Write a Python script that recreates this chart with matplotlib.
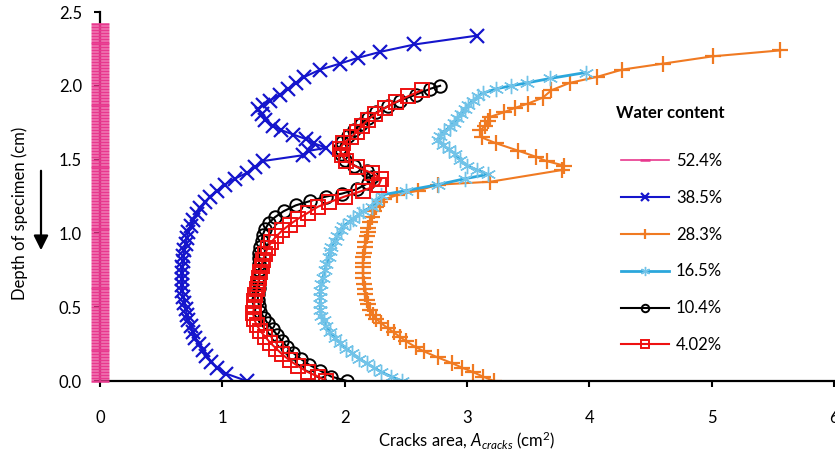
import numpy as np
import matplotlib
matplotlib.use('Agg')
import matplotlib.pyplot as plt
from matplotlib.ticker import FormatStrFormatter

plt.rcParams['font.family'] = ['Lato', 'DejaVu Sans']
plt.rcParams['mathtext.fontset'] = 'custom'
plt.rcParams['mathtext.rm'] = 'Lato'
plt.rcParams['mathtext.it'] = 'Lato:italic'

# water content labels
labels = ['52.4%', '38.5%', '28.3%', '16.5%', '10.4%', '4.02%']

# 52.4% - no cracks over the whole depth
pink_depth = [0.00, 0.02, 0.04, 0.06, 0.08, 0.10, 0.12, 0.14, 0.16, 0.18,
              0.20, 0.22, 0.24, 0.26, 0.28, 0.30, 0.32, 0.34, 0.36, 0.38,
              0.40, 0.42, 0.44, 0.46, 0.48, 0.50, 0.52, 0.54, 0.56, 0.58,
              0.60, 0.62, 0.64, 0.66, 0.68, 0.70, 0.72, 0.74, 0.76, 0.78,
              0.80, 0.82, 0.84, 0.86, 0.88, 0.90, 0.92, 0.94, 0.96, 0.98,
              1.00, 1.02, 1.04, 1.06, 1.08, 1.10, 1.12, 1.14, 1.16, 1.18,
              1.20, 1.22, 1.24, 1.26, 1.28, 1.30, 1.32, 1.34, 1.36, 1.38,
              1.40, 1.42, 1.44, 1.46, 1.48, 1.50, 1.52, 1.54, 1.56, 1.58,
              1.60, 1.62, 1.64, 1.66, 1.68, 1.70, 1.72, 1.74, 1.76, 1.78,
              1.80, 1.82, 1.84, 1.86, 1.88, 1.90, 1.92, 1.94, 1.96, 1.98,
              2.00, 2.02, 2.04, 2.06, 2.08, 2.10, 2.12, 2.14, 2.16, 2.18,
              2.20, 2.22, 2.24, 2.26, 2.28, 2.30, 2.32, 2.34, 2.36, 2.38,
              2.40, 2.42]
pink_area = [0.0] * len(pink_depth)

# 38.5%
blue_depth = [0.00, 0.05, 0.09, 0.13, 0.17, 0.21, 0.25, 0.29, 0.33, 0.37,
              0.41, 0.45, 0.49, 0.53, 0.57, 0.61, 0.65, 0.69, 0.73, 0.77,
              0.81, 0.85, 0.89, 0.93, 0.97, 1.01, 1.05, 1.09, 1.13, 1.17,
              1.21, 1.25, 1.29, 1.33, 1.37, 1.41, 1.45, 1.49, 1.53, 1.56,
              1.58, 1.61, 1.64, 1.67, 1.70, 1.73, 1.77, 1.81, 1.84, 1.87,
              1.90, 1.94, 1.98, 2.02, 2.06, 2.11, 2.15, 2.19, 2.23, 2.28, 2.34]
blue_area = [1.20, 1.03, 0.96, 0.91, 0.87, 0.84, 0.81, 0.78, 0.76, 0.74,
             0.72, 0.71, 0.70, 0.69, 0.68, 0.67, 0.67, 0.67, 0.67, 0.67,
             0.68, 0.68, 0.69, 0.70, 0.71, 0.72, 0.74, 0.76, 0.79, 0.82,
             0.86, 0.90, 0.96, 1.02, 1.10, 1.20, 1.27, 1.33, 1.66, 1.71,
             1.85, 1.75, 1.68, 1.58, 1.48, 1.41, 1.35, 1.32, 1.29, 1.33,
             1.39, 1.47, 1.54, 1.60, 1.67, 1.80, 1.96, 2.11, 2.29, 2.57, 3.08]

# 28.3%
orange_depth = [0.00, 0.03, 0.06, 0.09, 0.12, 0.16, 0.20, 0.23, 0.27, 0.30,
                0.33, 0.36, 0.39, 0.42, 0.45, 0.48, 0.52, 0.55, 0.59, 0.62,
                0.66, 0.70, 0.73, 0.77, 0.80, 0.84, 0.87, 0.91, 0.94, 0.98,
                1.01, 1.04, 1.08, 1.11, 1.15, 1.18, 1.21, 1.23, 1.26, 1.29,
                1.33, 1.35, 1.43, 1.46, 1.49, 1.52, 1.56, 1.61, 1.65, 1.70,
                1.73, 1.76, 1.79, 1.82, 1.85, 1.88, 1.92, 1.97, 2.02, 2.06,
                2.11, 2.15, 2.20, 2.24]
orange_area = [3.22, 3.13, 3.05, 2.96, 2.88, 2.76, 2.65, 2.58, 2.50, 2.45,
               2.40, 2.35, 2.30, 2.26, 2.23, 2.21, 2.19, 2.18, 2.17, 2.17,
               2.16, 2.15, 2.15, 2.15, 2.15, 2.15, 2.16, 2.17, 2.17, 2.18,
               2.19, 2.19, 2.21, 2.22, 2.24, 2.26, 2.29, 2.32, 2.43, 2.60,
               2.76, 3.19, 3.78, 3.79, 3.65, 3.56, 3.42, 3.24, 3.12, 3.11,
               3.15, 3.17, 3.19, 3.30, 3.39, 3.50, 3.62, 3.69, 3.84, 4.06,
               4.27, 4.60, 5.01, 5.56]

# 16.5%
cyan_depth = [0.00, 0.03, 0.06, 0.09, 0.12, 0.15, 0.19, 0.22, 0.26, 0.29,
              0.33, 0.37, 0.41, 0.44, 0.48, 0.52, 0.57, 0.61, 0.66, 0.70,
              0.75, 0.79, 0.84, 0.88, 0.91, 0.95, 0.98, 1.02, 1.05, 1.08,
              1.10, 1.13, 1.15, 1.18, 1.22, 1.26, 1.29, 1.33, 1.37, 1.40,
              1.43, 1.46, 1.50, 1.54, 1.57, 1.60, 1.63, 1.66, 1.69, 1.72,
              1.75, 1.78, 1.81, 1.84, 1.87, 1.90, 1.93, 1.95, 1.98, 2.00,
              2.02, 2.05, 2.09]
cyan_area = [2.47, 2.38, 2.30, 2.24, 2.18, 2.12, 2.06, 2.01, 1.96, 1.92,
             1.88, 1.85, 1.83, 1.81, 1.80, 1.80, 1.80, 1.80, 1.81, 1.82,
             1.84, 1.85, 1.87, 1.88, 1.89, 1.92, 1.94, 1.97, 1.99, 2.04,
             2.07, 2.12, 2.15, 2.22, 2.26, 2.30, 2.50, 2.76, 2.98, 3.17,
             3.08, 3.00, 2.94, 2.90, 2.85, 2.80, 2.76, 2.78, 2.81, 2.86,
             2.89, 2.92, 2.95, 2.98, 3.01, 3.05, 3.09, 3.13, 3.24, 3.36,
             3.49, 3.68, 3.97]

# 10.4%
black_depth = [0.00, 0.03, 0.07, 0.11, 0.15, 0.19, 0.23, 0.27, 0.31, 0.35,
               0.39, 0.43, 0.47, 0.51, 0.55, 0.59, 0.63, 0.67, 0.71, 0.75,
               0.79, 0.83, 0.87, 0.91, 0.95, 0.99, 1.03, 1.07, 1.11, 1.15,
               1.19, 1.22, 1.25, 1.27, 1.30, 1.34, 1.38, 1.42, 1.46, 1.50,
               1.54, 1.58, 1.62, 1.66, 1.70, 1.74, 1.78, 1.82, 1.86, 1.90,
               1.94, 1.98, 2.00]
black_area = [2.02, 1.89, 1.80, 1.71, 1.64, 1.58, 1.53, 1.49, 1.45, 1.41,
              1.37, 1.34, 1.31, 1.30, 1.29, 1.29, 1.30, 1.30, 1.30, 1.30,
              1.30, 1.30, 1.30, 1.31, 1.32, 1.33, 1.35, 1.38, 1.43, 1.50,
              1.60, 1.72, 1.85, 1.98, 2.10, 2.19, 2.22, 2.18, 2.08, 2.00,
              1.97, 1.96, 1.98, 2.03, 2.08, 2.13, 2.19, 2.26, 2.35, 2.45,
              2.58, 2.70, 2.78]

# 4.02%
red_depth = [0.00, 0.03, 0.06, 0.10, 0.14, 0.18, 0.22, 0.26, 0.30, 0.34,
             0.38, 0.42, 0.46, 0.50, 0.54, 0.58, 0.62, 0.66, 0.70, 0.74,
             0.78, 0.82, 0.86, 0.90, 0.94, 0.98, 1.02, 1.06, 1.10, 1.14,
             1.18, 1.21, 1.25, 1.29, 1.33, 1.37, 1.41, 1.45, 1.49, 1.53,
             1.57, 1.61, 1.65, 1.69, 1.73, 1.77, 1.81, 1.85, 1.89, 1.93, 1.97]
red_area = [1.85, 1.78, 1.70, 1.62, 1.55, 1.49, 1.44, 1.39, 1.35, 1.31,
            1.28, 1.26, 1.25, 1.26, 1.26, 1.27, 1.28, 1.29, 1.30, 1.31,
            1.32, 1.33, 1.35, 1.37, 1.40, 1.44, 1.49, 1.55, 1.62, 1.70,
            1.78, 1.87, 2.00, 2.15, 2.28, 2.30, 2.22, 2.10, 2.01, 1.98,
            1.96, 1.99, 2.05, 2.10, 2.14, 2.19, 2.25, 2.33, 2.42, 2.52, 2.63]

fig = plt.figure(figsize=(8.35, 4.57), dpi=100)
ax = fig.add_axes([0.1198, 0.1663, 0.879, 0.8074])

ax.plot(pink_area, pink_depth, color='#E8388E', lw=1.2, marker='_', ms=13,
        mew=1.8, clip_on=False, label=labels[0], zorder=3)
ax.plot(blue_area, blue_depth, color='#1515CC', lw=1.5, marker='x', ms=10,
        mew=1.6, label=labels[1])
ax.plot(orange_area, orange_depth, color='#F07A22', lw=1.5, marker='+', ms=11,
        mew=1.6, label=labels[2])
ax.plot(cyan_area, cyan_depth, color='#2BA7DC', lw=2, marker=(6, 2, 0), ms=11,
        mew=1.0, mec='#72C3E8', label=labels[3])
ax.plot(black_area, black_depth, color='black', lw=1.5, marker='o', ms=9,
        mew=1.4, mfc='none', label=labels[4])
ax.plot(red_area, red_depth, color='#EE1111', lw=1.5, marker='s', ms=9.5,
        mew=1.4, mfc='none', label=labels[5])

ax.set_xlim(0, 6)
ax.set_ylim(0, 2.5)
ax.set_xticks([0, 1, 2, 3, 4, 5, 6])
ax.set_yticks([0, 0.5, 1.0, 1.5, 2.0, 2.5])
ax.yaxis.set_major_formatter(FormatStrFormatter('%.1f'))
for s in ['top', 'right']:
    ax.spines[s].set_visible(False)
for s in ['left', 'bottom']:
    ax.spines[s].set_linewidth(1.6)
ax.tick_params(axis='x', direction='out', length=4, width=1.5, pad=17, labelsize=12)
ax.tick_params(axis='y', direction='out', length=4, width=1.5, pad=9, labelsize=12)

ax.set_xlabel(r'Cracks area, $A_{cracks}$ (cm$^2$)', fontsize=12, labelpad=2)
fig.text(20 / 835, 1 - 213 / 457, 'Depth of specimen (cm)', rotation=90,
         fontsize=12, ha='center', va='center')

# downward arrow next to the y label
ax.annotate('', xy=(41, 457 - 253), xytext=(41, 457 - 168),
            xycoords='figure pixels', textcoords='figure pixels',
            arrowprops=dict(arrowstyle='-|>', color='black', lw=1.6,
                            mutation_scale=22), annotation_clip=False)

fig.text(616 / 835, 1 - 113 / 457, 'Water content', fontsize=12,
         fontweight='bold', ha='left', va='center')
leg = ax.legend(loc='upper left', bbox_to_anchor=(621 / 835, 1 - 153 / 457),
                bbox_transform=fig.transFigure, frameon=False, fontsize=12,
                borderpad=0, borderaxespad=0,
                handlelength=2.9, handletextpad=0.4, labelspacing=1.25,
                markerscale=0.6)

fig.savefig('out.png', dpi=100)
